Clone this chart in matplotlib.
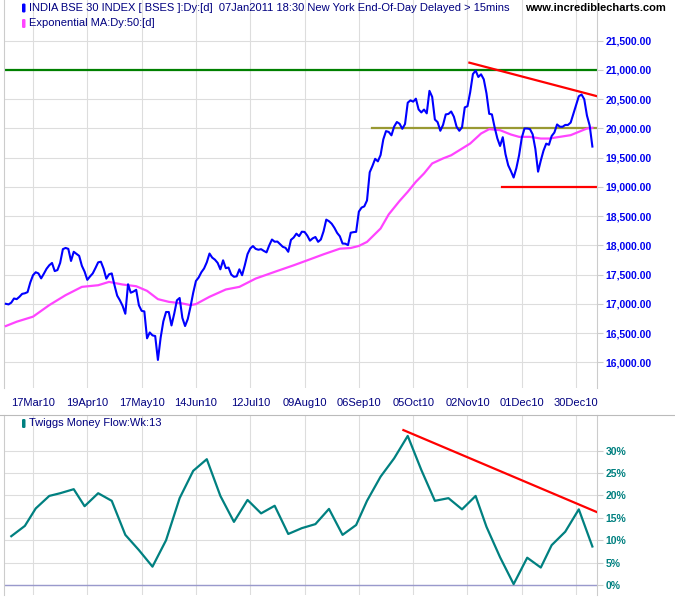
import numpy as np
import matplotlib
matplotlib.use("Agg")
import matplotlib.pyplot as plt
from matplotlib.patches import FancyBboxPatch
from matplotlib.lines import Line2D
from matplotlib.ticker import FuncFormatter, FixedLocator

plt.rcParams['font.family'] = ['Liberation Sans', 'DejaVu Sans']

# x axis is trading days counted from 17Mar10 (= day 0)
tick_days = [0, 20, 40, 60, 80, 100, 120, 140, 160, 180, 200]
tick_labels = ["17Mar10", "19Apr10", "17May10", "14Jun10", "12Jul10", "09Aug10",
               "06Sep10", "05Oct10", "02Nov10", "01Dec10", "30Dec10"]

# BSE Sensex daily close, day -10 .. day 206 (07Jan11)
price_start = -10
price = [
    17000, 16990, 17020, 17091, 17080, 17120, 17170, 17180, 17200, 17365,
    17489, 17540, 17520, 17435, 17515, 17600, 17660, 17699, 17560, 17577,
    17700, 17935, 17956, 17940, 17733, 17890, 17856, 17820, 17650, 17550,
    17410, 17468, 17520, 17612, 17710, 17720, 17600, 17430, 17505, 17520,
    17320, 17140, 17060, 16965, 16830, 17335, 17190, 17210, 17240, 16975,
    16880, 16870, 16410, 16510, 16460, 16449, 16040, 16420, 16700, 16860,
    16860, 16630, 16830, 17060, 17100, 16760, 16620, 16740, 16950, 17190,
    17390, 17450, 17540, 17605, 17710, 17860, 17790, 17755, 17700, 17590,
    17744, 17610, 17620, 17500, 17462, 17470, 17590, 17489, 17660, 17850,
    17946, 17988, 17940, 17925, 17935, 17905, 17880, 18000, 18100, 18062,
    18065, 18020, 17975, 17957, 17890, 18094, 18134, 18200, 18157, 18233,
    18230, 18167, 18080, 18120, 18143, 18060, 18100, 18240, 18440, 18413,
    18370, 18300, 18213, 18155, 18031, 18029, 18004, 18216, 18226, 18231,
    18577, 18646, 18667, 18768, 19250, 19358, 19480, 19437, 19545, 19812,
    19954, 19940, 19882, 20032, 20110, 20080, 19994, 20075, 20440, 20480,
    20458, 20509, 20325, 20274, 20323, 20258, 20643, 20540, 20152, 20108,
    19960, 20060, 20240, 20248, 20290, 20200, 20028, 19960, 20020, 20360,
    20380, 20620, 20930, 20990, 20880, 20926, 20840, 20600, 20250, 20240,
    20020, 19830, 19700, 19850, 19560, 19370, 19270, 19160, 19320, 19540,
    19840, 19999, 19999, 19990, 19900, 19650, 19260, 19450, 19620, 19740,
    19720, 19870, 19930, 20068, 20030, 20028, 20060, 20060, 20100, 20250,
    20400, 20550, 20580, 20500, 20220, 20050, 19690,
]
price_days = np.arange(price_start, price_start + len(price))

# 50 day exponential MA
ema_days = [-10, -6, 0, 6, 12, 18, 24, 28, 33, 38, 42, 46, 50, 55, 58, 60, 65, 71, 76,
            82, 90, 96, 101, 107, 113, 117, 120, 123, 128, 131, 135, 138, 141, 144,
            147, 151, 154, 157, 161, 165, 168, 172, 176, 179, 183, 187, 190, 194,
            198, 201, 204, 206]
ema = [16620, 16694, 16780, 16978, 17148, 17290, 17318, 17375, 17330, 17301, 17222,
       17080, 17034, 17006, 16978, 16995, 17120, 17245, 17290, 17432, 17563, 17659,
       17744, 17847, 17943, 17955, 17990, 18059, 18288, 18530, 18760, 18916, 19087,
       19230, 19401, 19487, 19541, 19627, 19742, 19913, 19988, 19970, 19896, 19856,
       19856, 19827, 19827, 19856, 19885, 19942, 19999, 20010]

# weekly Twiggs Money Flow (13 week), percent
tmf_days = [-8, -3, 1, 6, 10, 15, 19, 24, 29, 34, 39, 44, 49, 54, 59, 64, 69, 74, 79,
            84, 89, 94, 99, 104, 109, 114, 119, 123, 128, 133, 138, 143, 148, 153,
            158, 163, 167, 172, 177, 182, 187, 191, 196, 201, 206]
tmf = [10.9, 13.2, 17.1, 19.9, 20.5, 21.4, 17.6, 20.5, 18.8, 11.2, 7.8, 4.1, 10.0,
       19.4, 25.5, 28.1, 19.9, 14.1, 19.0, 16.0, 17.7, 11.4, 12.7, 13.6, 17.0, 11.2,
       13.4, 18.8, 24.2, 28.3, 33.3, 25.7, 18.8, 19.4, 16.9, 19.9, 13.0, 6.2, 0.2,
       6.1, 3.9, 8.9, 11.9, 16.9, 8.6]

# annotation lines
resist_level = 21000
mid_level = 20000
mid_from = 124.7
support_level = 19000
support_from = 172.8
price_trend_days = [160.7, 207.4]
price_trend_vals = [21125, 20555]
tmf_trend_days = [136.4, 207.6]
tmf_trend_vals = [34.6, 16.3]

navy = "#000080"
grid_c = "#dddddd"
xlim = (-10.68, 207.7)

fig = plt.figure(figsize=(6.75, 6), dpi=100)
W, H = 675, 600

def rect(x0, y0, x1, y1):
    return [x0 / W, 1 - y1 / H, (x1 - x0) / W, (y1 - y0) / H]

ax = fig.add_axes(rect(4, 0, 597, 388))
ax2 = fig.add_axes(rect(4, 415, 597, 595))

for a in (ax, ax2):
    a.set_xlim(*xlim)
    a.xaxis.set_major_locator(FixedLocator(tick_days))
    a.grid(True, color=grid_c, lw=0.8)
    a.set_axisbelow(True)
    for s in ("top", "bottom"):
        a.spines[s].set_visible(False)
    for s in ("left", "right"):
        a.spines[s].set_color("#cccccc")
        a.spines[s].set_linewidth(0.8)
    a.yaxis.tick_right()
    a.tick_params(axis="y", length=4, color="#cccccc", pad=2)
    a.tick_params(axis="x", length=0)

# --- price panel
ax.set_ylim(15560, 22197)
ax.set_yticks(np.arange(16000, 21501, 500))
ax.yaxis.set_major_formatter(FuncFormatter(lambda v, p: f"{v:,.2f}"))
for t in ax.get_yticklabels():
    t.set_color("#0000ee")
    t.set_fontweight("bold")
    t.set_fontsize(7.5)
ax.set_xticks(tick_days)
ax.set_xticklabels(tick_labels, fontsize=8, color=navy)
ax.tick_params(axis="x", pad=7)

ax.axhline(resist_level, color="#008000", lw=1.6, zorder=2)
ax.plot([mid_from, xlim[1]], [mid_level, mid_level], color="#999933", lw=1.6, zorder=2)
ax.plot([support_from, xlim[1]], [support_level, support_level], color="#ff0000", lw=1.6, zorder=2)
ax.plot(price_trend_days, price_trend_vals, color="#ff0000", lw=1.6, zorder=2)
ax.plot(ema_days, ema, color="#ff44ff", lw=1.6, zorder=3)
ax.plot(price_days, price, color="#0000ff", lw=1.5, zorder=4)

# --- money flow panel
ax2.set_ylim(-2.23, 37.97)
ax2.set_yticks(np.arange(0, 31, 5))
ax2.yaxis.set_major_formatter(FuncFormatter(lambda v, p: f"{v:.0f}%"))
for t in ax2.get_yticklabels():
    t.set_color("#008080")
    t.set_fontweight("bold")
    t.set_fontsize(7.5)
ax2.set_xticklabels([])
ax2.axhline(0, color="#9999cc", lw=1.0, zorder=2)
ax2.plot(tmf_trend_days, tmf_trend_vals, color="#ff0000", lw=1.6, zorder=3)
ax2.plot(tmf_days, tmf, color="#008080", lw=1.6, zorder=4)

# separator between panels
fig.add_artist(Line2D([0, 1], [1 - 415 / H, 1 - 415 / H], color="#bbbbbb", lw=0.8,
                      transform=fig.transFigure))

# legends / header
def marker(x, y, color):
    fig.add_artist(FancyBboxPatch((x / W, 1 - (y + 5) / H), 3.5 / W, 9 / H,
                                  boxstyle="round,pad=0,rounding_size=0.002",
                                  transform=fig.transFigure, color=color, lw=0))

marker(22, 7.5, "#0000ff")
fig.text(29 / W, 1 - 8 / H,
         "INDIA BSE 30 INDEX [ BSES ]:Dy:[d]  07Jan2011 18:30 New York End-Of-Day Delayed > 15mins",
         fontsize=8, color=navy, va="center", ha="left")
fig.text(666 / W, 1 - 8 / H, "www.incrediblecharts.com", fontsize=8, color="black",
         fontweight="bold", va="center", ha="right")
marker(22, 23, "#ff44ff")
fig.text(29 / W, 1 - 23 / H, "Exponential MA:Dy:50:[d]", fontsize=8, color=navy,
         va="center", ha="left")
marker(22, 423, "#008080")
fig.text(29 / W, 1 - 423 / H, "Twiggs Money Flow:Wk:13", fontsize=8, color=navy,
         va="center", ha="left")

fig.savefig("out.png", dpi=100)
